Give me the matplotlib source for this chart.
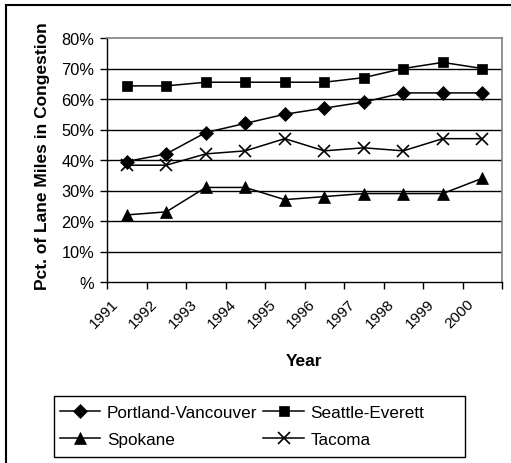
import matplotlib
matplotlib.use("Agg")
import matplotlib.pyplot as plt
import matplotlib.transforms as mtransforms
from matplotlib.lines import Line2D
from matplotlib.patches import Rectangle

plt.rcParams['font.family'] = ['Liberation Sans', 'DejaVu Sans']

years = ["1991", "1992", "1993", "1994", "1995", "1996", "1997", "1998", "1999", "2000"]
portland = [39.5, 42, 49, 52, 55, 57, 59, 62, 62, 62]
seattle = [64.3, 64.3, 65.5, 65.5, 65.5, 65.5, 67, 70, 72, 70]
spokane = [22, 23, 31, 31, 27, 28, 29, 29, 29, 34]
tacoma = [38.3, 38.3, 42, 43, 47, 43, 44, 43, 47, 47]
y_ticks = [0, 10, 20, 30, 40, 50, 60, 70, 80]
y_labels = ["%", "10%", "20%", "30%", "40%", "50%", "60%", "70%", "80%"]

W, H = 511, 464
fig = plt.figure(figsize=(W / 100, H / 100), dpi=100)
ax = fig.add_axes([107 / W, 1 - 283 / H, 395 / W, (283 - 39) / H])

x = list(range(len(years)))
series = [
    ("Portland-Vancouver", portland, "D", 7),
    ("Seattle-Everett", seattle, "s", 7.5),
    ("Spokane", spokane, "^", 8.5),
    ("Tacoma", tacoma, "x", 8.5),
]
handles = {}
for name, vals, mk, ms in series:
    (ln,) = ax.plot(x, vals, color="black", lw=1.1, marker=mk, markersize=ms,
                    markeredgewidth=1.2 if mk == "x" else 0.5,
                    markerfacecolor="black", markeredgecolor="black", label=name,
                    clip_on=False, zorder=3)
    handles[name] = ln

ax.set_xlim(-0.5, len(years) - 0.5)
ax.set_ylim(0, 80)
ax.set_yticks(y_ticks)
ax.set_yticklabels(y_labels, fontsize=11.8)
for yv in y_ticks[1:-1]:
    ax.axhline(yv, color="black", lw=1, zorder=1)

ax.set_xticks([i - 0.5 for i in range(len(years) + 1)])
ax.set_xticklabels([])
ax.set_xticks(x, minor=True)
ax.set_xticklabels(years, minor=True, fontsize=11, rotation=45,
                   ha="right", va="top", rotation_mode="anchor")
ax.tick_params(axis="x", which="minor", length=0, pad=0)
ax.tick_params(axis="x", which="major", length=5, width=1, direction="out")
ax.tick_params(axis="y", which="major", length=5, width=1, direction="out", pad=4)

offset = mtransforms.ScaledTranslation(-16 / 100, -14 / 100, fig.dpi_scale_trans)
for lbl in ax.xaxis.get_minorticklabels():
    lbl.set_transform(lbl.get_transform() + offset)

for side in ("left", "bottom"):
    ax.spines[side].set_color("black")
    ax.spines[side].set_linewidth(1)
for side in ("top", "right"):
    ax.spines[side].set_color("#808080")
    ax.spines[side].set_linewidth(1.2)

fig.text(304 / W, 1 - 361 / H, "Year", fontsize=12.5, fontweight="bold",
         ha="center", va="center")
fig.text(43 / W, 1 - 156 / H, "Pct. of Lane Miles in Congestion", fontsize=12.5,
         fontweight="bold", rotation=90, ha="center", va="center")

# Legend entries laid out row by row (matplotlib fills column by column)
order = ["Portland-Vancouver", "Spokane", "Seattle-Everett", "Tacoma"]
leg = fig.legend([handles[n] for n in order], order, loc="center left",
                 bbox_to_anchor=(60 / W, 1 - 427 / H), ncol=2,
                 fontsize=12.3, frameon=False, handlelength=2.35,
                 handletextpad=0.4, columnspacing=0.35, labelspacing=0.75,
                 borderpad=0, borderaxespad=0)
fig.add_artist(Rectangle((54 / W, 1 - 458 / H), (465 - 54) / W, (458 - 397) / H,
                         transform=fig.transFigure, fill=False,
                         edgecolor="black", lw=1))

fig.add_artist(Line2D([6 / W, 6 / W], [0, 1 - 6 / H], color="black", lw=1.5,
                      transform=fig.transFigure))
fig.add_artist(Line2D([6 / W, 1], [1 - 6 / H, 1 - 6 / H], color="black", lw=1.5,
                      transform=fig.transFigure))

fig.savefig("out.png", dpi=100)
